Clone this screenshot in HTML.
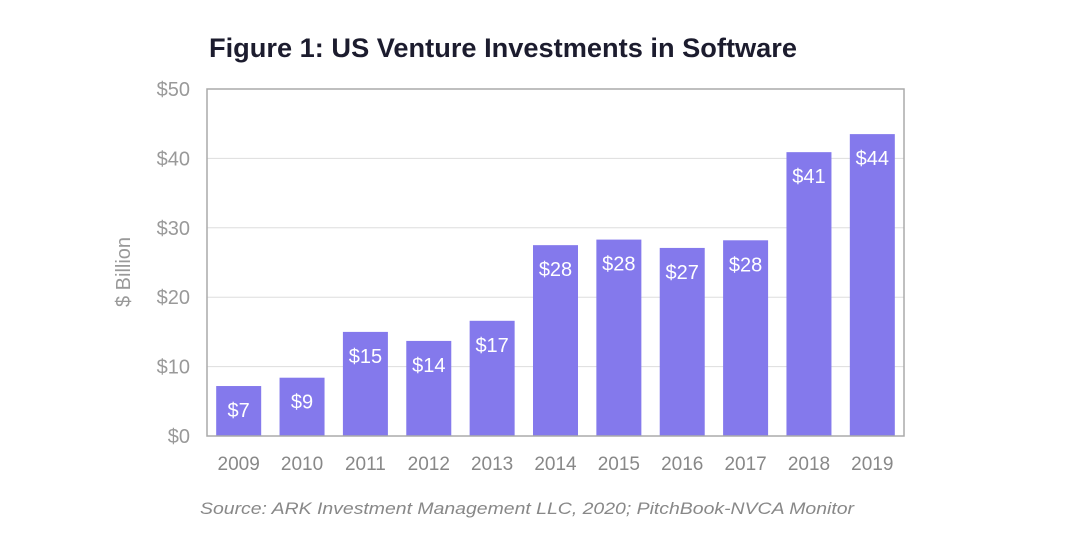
<!DOCTYPE html>
<html><head><meta charset="utf-8"><style>
body{margin:0;background:#fff;width:1080px;height:537px;overflow:hidden;font-family:"Liberation Sans",sans-serif}
</style></head><body>
<svg width="1080" height="537">
<text x="209" y="57" font-size="27" font-weight="bold" fill="#1c1c2e" textLength="588" lengthAdjust="spacingAndGlyphs">Figure 1: US Venture Investments in Software</text>
<g id="grid"></g>
<g id="bars"></g>
<g id="axes"></g>
<text transform="translate(130,272) rotate(-90)" text-anchor="middle" font-size="20" fill="#999">$ Billion</text>
<text x="527" y="514" text-anchor="middle" font-size="17" font-style="italic" fill="#888" textLength="654" lengthAdjust="spacingAndGlyphs">Source: ARK Investment Management LLC, 2020; PitchBook-NVCA Monitor</text>
</svg>
<script>
const categories=["2009","2010","2011","2012","2013","2014","2015","2016","2017","2018","2019"];
const values=[7.2,8.4,15.0,13.7,16.6,27.5,28.3,27.1,28.2,40.9,43.5];
const valueLabels=["$7","$9","$15","$14","$17","$28","$28","$27","$28","$41","$44"];
const yTicks=[0,10,20,30,40,50];
const yTickLabels=["$0","$10","$20","$30","$40","$50"];
const NS="http://www.w3.org/2000/svg";
const L=207,R=904,T=89,B=436;
const y=v=>B-(v/50)*(B-T);
const step=(R-L)/categories.length;
const x=i=>L+step*i+(step-45)/2;
function mk(tag,attrs,parent,text){const e=document.createElementNS(NS,tag);for(const k in attrs)e.setAttribute(k,attrs[k]);if(text!=null)e.textContent=text;document.getElementById(parent).appendChild(e);return e;}
yTicks.forEach((t,i)=>{
 if(t>0&&t<50){const g=mk("line",{x1:L,x2:R,y1:y(t),y2:y(t),stroke:"#ddd","stroke-width":1},"grid");
 
 }
 const lb=mk("text",{x:190,y:y(t)+7,"text-anchor":"end","font-size":20,fill:"#999"},"axes",yTickLabels[i]);
 
 
});
categories.forEach((c,i)=>{
 const r=mk("rect",{x:x(i),y:y(values[i]),width:45,height:B-y(values[i]),fill:"#8479ec"},"bars");
 
 
 const v=mk("text",{x:x(i)+22.5,y:y(values[i])+31,"text-anchor":"middle","font-size":20,fill:"#fff"},"bars",valueLabels[i]);
 
 
 const xl=mk("text",{x:x(i)+22.5,y:470,"text-anchor":"middle","font-size":19,fill:"#888"},"axes",c);
 
 
});
const f=mk("rect",{x:L,y:T,width:R-L,height:B-T,fill:"none",stroke:"#aaa","stroke-width":1.5},"axes");


</script>
</body></html>
